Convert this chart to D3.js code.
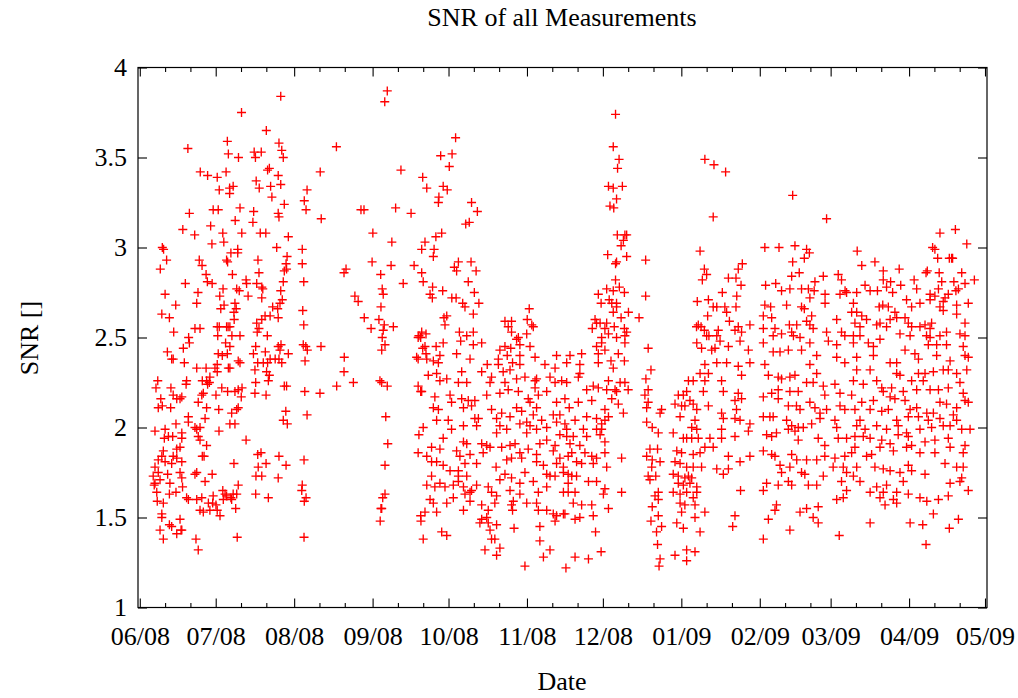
<!DOCTYPE html>
<html>
<head>
<meta charset="utf-8">
<script src="https://cdn.jsdelivr.net/npm/d3@7/dist/d3.min.js"></script>
<style>
  body { margin: 0; background: #fff; }
  svg { display: block; }
  text { font-family: "Liberation Serif", "Times New Roman", serif; fill: #000; }
</style>
</head>
<body>
<svg id="chart" width="1018" height="698"></svg>
<script>
// Measurement epoch: day offsets below count from 1 June 2008 (UTC).
const epoch = Date.UTC(2008, 5, 1);

// [day offset, SNR] pairs, grouped by observing period.
const obsJunJul = [
[40.2,3.75],[50,3.65],[34.6,3.59],[19,3.55],[35,3.52],[39,3.5],[45.2,3.53],[48,3.53],[45.7,3.5],[50.5,3.43],[51.2,3.44],[23.9,3.42],[26.8,3.4],[30.6,3.39],[34.1,3.42],[46,3.37],[47.2,3.33],[51.7,3.34],[52.2,3.28],[31.4,3.32],[35.5,3.33],[36.9,3.34],[35.5,3.3],[19.6,3.19],[29,3.21],[31,3.21],[39.6,3.22],[45,3.2],[37.7,3.15],[44.7,3.14],[17,3.1],[21.7,3.07],[28,3.12],[32.8,3.08],[33.2,3.03],[28.5,3.02],[40.3,3.08],[47.6,3.08],[49.8,3.08],[8.9,3],[9.4,2.99],[10.6,2.93],[8.1,2.88],[23.5,2.93],[24.6,2.9],[26.2,2.85],[26.7,2.81],[28.6,2.8],[18,2.8],[34.3,2.93],[34.7,2.92],[36,2.97],[38.7,2.99],[38.7,2.97],[46.7,2.93],[47.1,2.86],[42,2.82],[42.2,2.8],[46.2,2.8],[48.2,2.78],[48.6,2.77],[36.6,2.85],[10,2.74],[14.2,2.68],[8.7,2.63],[11.7,2.61],[13.4,2.53],[23,2.75],[22.5,2.69],[32.9,2.77],[31.6,2.73],[32,2.66],[33.3,2.68],[38.3,2.77],[39.3,2.76],[37.6,2.69],[38.1,2.66],[37.2,2.64],[37.3,2.6],[35.6,2.56],[34.3,2.56],[34.9,2.56],[31.4,2.56],[42.8,2.73],[48.2,2.72],[52.5,2.67],[49.5,2.62],[51.5,2.62],[48.2,2.6],[46.2,2.58],[47.1,2.55],[46.4,2.53],[21.8,2.55],[23.8,2.55],[30.6,2.56],[30.8,2.51],[36.4,2.51],[39.6,2.51],[50.4,2.51],[19.3,2.5],
[19.6,2.47],[17.2,2.44],[10.9,2.42],[12.6,2.38],[13.2,2.38],[17.6,2.36],[33.9,2.47],[35.6,2.45],[34.6,2.41],[32.6,2.4],[31,2.41],[38.9,2.37],[39.6,2.36],[35.6,2.33],[35,2.33],[30.6,2.35],[29.7,2.33],[30.6,2.31],[26.2,2.33],[22.5,2.33],[45.8,2.45],[44.9,2.41],[49.6,2.42],[45.5,2.32],[46.6,2.36],[48.8,2.36],[50.5,2.36],[51.5,2.38],[53.5,2.38],[50.1,2.31],[51.2,2.29],[50.8,2.26],[45.8,2.25],[45.5,2.19],[49.9,2.18],[7.1,2.26],[6.4,2.22],[8.3,2.16],[7.3,2.11],[8.9,2.12],[12.3,2.22],[12.2,2.11],[13.2,2.18],[14.6,2.16],[15.9,2.16],[16.6,2.17],[18.5,2.26],[18.3,2.24],[24.7,2.26],[26.4,2.26],[27.5,2.25],[26.8,2.24],[27.7,2.28],[25.1,2.19],[24.5,2.18],[23.1,2.14],[30.1,2.18],[32.4,2.22],[34.7,2.2],[37.6,2.2],[38.9,2.21],[40.4,2.22],[40.1,2.17],[26.4,2.11],[31.2,2.1],[36.3,2.08],[38.3,2.1],[38.9,2.11],[19.2,2.06],[19.2,2.03],[14.3,2.02],[25.8,2.05],[21.8,2],[23.8,2],[22.5,1.99],[23.1,1.95],[23.8,1.93],[26.4,1.9],[25.4,1.84],[35.6,2.02],[37.6,2.02],[31.3,1.98],[42,1.93],[6,1.98],[10,1.99],[9.7,1.94],[11.3,1.95],[13,1.95],[16.6,1.97],[16.6,1.94],[15.9,1.89],[14.6,1.88],[9.3,1.87],[8.7,1.84],[7.3,1.82],[10,1.81],[13.2,1.84],[14.6,1.83],[16.6,1.81],[12.6,1.8],[6,1.78],[5.3,1.73],[7.3,1.75],[11,1.74],[15.9,1.75],[16.6,1.72],[21.8,1.74],[22.5,1.75],[25.8,1.7],[28.6,1.74],[24.7,1.84],[6,1.69],[5.7,1.68],[8,1.71],[6.7,1.64],[11.9,1.69],[16.9,1.67],[14.3,1.64],[11.7,1.63],[9.3,1.58],[6.9,1.59],[8.7,1.52],[18.5,1.61],[19.2,1.6],[22.5,1.6],[24.5,1.61],[27.1,1.58],[25.1,1.53],[23.8,1.54],[27.7,1.54],[28.8,1.58],[30.1,1.57],[30.6,1.54],[31.7,1.51],[29,1.62],[32.8,1.65],[33.7,1.63],[33,1.6],[34.3,1.62],[36,1.61],[36.9,1.63],[38.3,1.63],[38.9,1.68],[37.9,1.55],[36.3,1.6],[45.8,1.63],[50.8,1.61],[46.6,1.85],[47.9,1.86],[49.9,1.8],[46.8,1.78],[45.9,1.73],[48.2,1.73],[37.2,1.8],[8.7,1.5],[8,1.43],[9.3,1.38],[11.7,1.46],[12.6,1.45],[14.6,1.41],[16.3,1.43],[16.6,1.43],[15.9,1.49],[22.2,1.38],[23.1,1.32],[38.5,1.39]
];

const obsAugSep = [
[55.7,3.84],[97.8,3.87],[96.8,3.81],[55,3.58],[56.1,3.54],[56.7,3.5],[77.7,3.56],[71.3,3.42],[103.2,3.43],[54.7,3.4],[55.7,3.35],[66.1,3.32],[65,3.26],[65.7,3.21],[57.1,3.24],[54.7,3.19],[55,3.17],[71.7,3.16],[87.4,3.21],[88.6,3.21],[101.1,3.22],[107.2,3.19],[58.7,3.06],[92.1,3.08],[99.6,3.03],[54.1,3],[58.2,2.95],[57.8,2.91],[57.1,2.87],[58,2.88],[56.7,2.81],[55.7,2.76],[56.3,2.71],[55.4,2.69],[54.5,2.66],[54.7,2.61],[64.2,2.99],[64.2,2.91],[64.8,2.81],[64.4,2.65],[64.8,2.57],[81.5,2.88],[80.7,2.86],[85,2.73],[86.3,2.7],[88.7,2.61],[91.4,2.55],[91.8,2.92],[95.2,2.85],[95.8,2.77],[96.2,2.74],[95.3,2.67],[94.5,2.6],[96.6,2.57],[96.2,2.54],[95.8,2.5],[100.2,2.56],[99.3,2.9],[104.1,2.8],[108.4,2.9],[110,2.5],
[54.7,2.45],[55.8,2.46],[55.4,2.43],[58.7,2.41],[55,2.38],[56.1,2.36],[64.6,2.46],[65.6,2.45],[66.2,2.43],[65.3,2.37],[71.6,2.45],[80.8,2.39],[80.7,2.31],[84.4,2.25],[77.8,2.23],[71.2,2.19],[65.2,2.2],[57.1,2.23],[58,2.23],[96.9,2.46],[95.6,2.43],[94.9,2.26],[95.6,2.25],[97.8,2.23],[97.2,2.06],[98,1.91],[96.9,1.79],[96.9,1.63],[96,1.61],[95.6,1.55],[95.3,1.55],[95,1.48],[57.7,2.09],[56.7,2.04],[58.3,2.02],[66.1,2.07],[55,1.84],[57.8,1.79],[54.7,1.72],[64.9,1.82],[64.2,1.68],[64,1.65],[65.7,1.61],[65,1.59],[64.9,1.39],[110.3,2.51],[111,2.5],[109.4,2.39],[110,2.38],[110,2.23],[111,2.2],[110.3,1.96],[110,1.86],[111,1.51]
];

const obsOct = [
[124.8,3.61],[118.9,3.51],[123.4,3.52],[122.3,3.45],[111.8,3.39],[113.4,3.33],[119.9,3.34],[121.5,3.32],[118.2,3.28],[118,3.25],[131.1,3.25],[133.4,3.2],[128.8,3.13],[130.2,3.14],[119.3,3.08],[117,3.06],[112.7,3.03],[111.4,2.99],[116.3,2.99],[116,2.95],[124.3,2.89],[125.9,2.92],[125.2,2.87],[130.9,2.92],[132.9,2.87],[129.8,2.81],[132.2,2.75],[134,2.69],[131.8,2.63],[111.4,2.86],[112,2.81],[115.7,2.78],[119.7,2.76],[114.7,2.74],[115.6,2.72],[123.3,2.72],[125,2.72],[127.6,2.69],[128.5,2.67],[113.1,2.52],[111.4,2.53],[120.2,2.61],[121.3,2.62],[120.6,2.57],[153.9,2.66],[144.3,2.59],[146.9,2.59],[145.6,2.56],[153.1,2.6],[154.9,2.57],[155.5,2.56],[149.6,2.5]
];

const obsOctNov = [
[126.3,2.53],[129.2,2.51],[131.8,2.53],[126.8,2.48],[119.9,2.47],[117.1,2.45],[112.7,2.45],[131.8,2.46],[135.1,2.47],[146.9,2.53],[148.9,2.49],[144.3,2.45],[146.6,2.44],[150.2,2.46],[152.9,2.52],[154.2,2.45],[142.3,2.43],[111.8,2.44],[118.6,2.4],[125.2,2.41],[113.1,2.41],[116,2.37],[118,2.36],[113.4,2.38],[130.5,2.38],[141.7,2.38],[145.2,2.4],[150.2,2.4],[156.2,2.39],[137.3,2.35],[141.7,2.35],[147.3,2.36],[150.2,2.35],[160.1,2.35],[164.7,2.4],[164.1,2.33],[168.7,2.36],[127.2,2.31],[114,2.29],[117.3,2.3],[121.3,2.27],[118.6,2.26],[125.9,2.25],[129.2,2.25],[135.1,2.31],[139,2.28],[138.4,2.25],[143.6,2.31],[146.3,2.32],[148.9,2.27],[152.2,2.28],[156.8,2.27],[156.2,2.22],[162.1,2.28],[164.1,2.25],[166.7,2.26],[168.7,2.25],
[111.4,2.2],[116.6,2.17],[122.6,2.18],[127.2,2.16],[129.8,2.15],[132.4,2.15],[137.1,2.18],[142.3,2.19],[145.6,2.21],[149.6,2.2],[153.5,2.16],[157.5,2.18],[160.8,2.2],[168,2.16],[164.7,2.14],[116,2.11],[118,2.1],[123.2,2.14],[127.9,2.11],[131.1,2.12],[139,2.1],[141,2.05],[143,2.08],[146.3,2.06],[148.9,2.11],[150.9,2.09],[154.2,2.14],[156.8,2.11],[155.5,2.07],[163.4,2.07],[166,2.07],[169.7,2.11],[112,2],[117.3,2.04],[121.9,2.04],[123.2,1.99],[119.9,1.94],[127.9,2.01],[132.4,2.05],[133.8,2.05],[133.1,2.01],[142.3,2.01],[145,1.99],[141,1.97],[150.2,2.02],[152.9,2.03],[154.2,2.01],[152.9,1.97],[158.8,2.04],[156.8,1.99],[160.8,2],[164.7,2.03],[168,2.02],[166,1.96],[168.7,1.95],
[115.3,1.89],[118.6,1.88],[113.4,1.84],[125.2,1.87],[127.9,1.92],[129.2,1.91],[126.5,1.84],[130.5,1.85],[135.1,1.91],[137.1,1.9],[138.4,1.89],[135.7,1.86],[143,1.89],[146.3,1.9],[148.3,1.91],[146.9,1.83],[150.2,1.86],[150.9,1.83],[153.5,1.88],[156.8,1.85],[158.1,1.91],[160.8,1.93],[164.1,1.9],[163.4,1.87],[166,1.83],[169.3,1.84],[115.3,1.81],[117.3,1.81],[119.9,1.79],[122.6,1.76],[125.9,1.76],[128.5,1.8],[133.1,1.8],[140.8,1.78],[145,1.82],[152.2,1.75],[156.8,1.81],[159.5,1.79],[160.8,1.74],[164.7,1.8],[167.4,1.78],[125.9,1.73],[129.2,1.73],[125.9,1.7],[115.3,1.73],[113.4,1.68],[116.6,1.67],[118.6,1.69],[120.6,1.67],[123.9,1.68],[127.9,1.67],[131.1,1.65],[133.1,1.68],[137.7,1.67],[142.3,1.71],[144.3,1.74],[146.9,1.72],[146.3,1.65],[150.2,1.69],[155.5,1.7],[157.5,1.64],[160.8,1.67],[162.1,1.73],[164.1,1.73],[167.4,1.75],[169.3,1.69],[167.4,1.64],
[114.7,1.6],[116,1.58],[121.3,1.58],[123.9,1.61],[128.5,1.63],[130.5,1.64],[139,1.64],[141,1.62],[147.6,1.59],[150.2,1.63],[152.9,1.58],[156.8,1.58],[157.5,1.54],[160.8,1.54],[163.4,1.52],[167.4,1.52],[112.7,1.53],[117.3,1.53],[127.9,1.54],[135.1,1.57],[140.3,1.58],[147.3,1.54],[146.9,1.57],[135.1,1.49],[137.1,1.5],[137.7,1.47],[134.4,1.47],[141,1.46],[138.4,1.43],[147.9,1.44],[158.1,1.45],[164.1,1.48],[164.7,1.51],[119.3,1.42],[121.3,1.4],[112,1.38],[139,1.38],[140.3,1.38],[136.4,1.32],[142.3,1.33],[141,1.29],[158.1,1.37],[162.1,1.32],[159.5,1.28],[152.2,1.23],[168.4,1.22],[111.1,1.48],[137.7,1.54],[130.5,1.59],[156.2,2.26],[144.3,2.25]
];

const obsDec = [
[188,3.74],[187.1,3.56],[189.4,3.49],[188.8,3.44],[185.2,3.34],[187.1,3.33],[190.7,3.34],[188.4,3.27],[185.8,3.23],[187.3,3.22],[188.7,3.07],[191.7,3.07],[192.4,3.07],[191.1,3.04],[190.2,3.01],[184.9,2.96],[188.4,2.92],[188,2.91],[192.4,2.95],[199.9,2.93],[188,2.82],[184.5,2.77],[187.1,2.76],[189.5,2.78],[191.5,2.75],[181.2,2.74],[182.3,2.69],[185.5,2.71],[186.5,2.69],[188.4,2.69],[188.4,2.67],[199.9,2.73],[187.1,2.64],[190.2,2.61],[193.1,2.64],[197.3,2.61],[179.9,2.6],[178.8,2.55],[180.5,2.58],[181.9,2.58],[184.5,2.58],[183.8,2.55],[187.5,2.56],[191.5,2.55],[192.4,2.53],[191.7,2.51],[188.4,2.5],[185.2,2.52],[182.5,2.5],
[191.7,2.47],[183.8,2.43],[182.5,2.47],[180.5,2.45],[174.6,2.41],[170,2.4],[181.2,2.41],[189.1,2.41],[191.5,2.37],[186.2,2.37],[187.1,2.33],[181.2,2.36],[173.9,2.35],[173.9,2.3],[173.3,2.28],[185.2,2.26],[189.8,2.25],[191.7,2.25],[179.2,2.23],[181.2,2.22],[176.6,2.21],[184.5,2.21],[187.8,2.21],[188.4,2.2],[193,2.21],[173.3,2.14],[178.6,2.15],[186.5,2.16],[189.1,2.13],[183.8,2.1],[191.1,2.08],[176.6,2.06],[180.5,2.05],[182.5,2.02],[183.8,2.04],[185.2,2.06],[172,2.04],[168.7,1.99],[175.3,1.99],[176.6,1.95],[180.5,1.99],[182.5,1.99],[181.9,1.96],[171.3,1.95],[173.9,1.9],[170,1.91],[183.8,1.92],[175.9,1.86],[178.6,1.84],[183.8,1.86],[190.4,1.83],[170.7,1.86],[172.6,1.81],[174.6,1.8],[179.2,1.8],[180.5,1.83],[184.5,1.78],[169.3,1.74],[170.7,1.73],[172.6,1.73],[177.3,1.7],[180.5,1.7],[172,1.64],[183.8,1.66],[183.2,1.63],[190.4,1.64],[169.3,1.64],[171.3,1.58],[174.6,1.57],[178.6,1.57],[185.2,1.55],[168,1.52],[172,1.49],[173.9,1.5],[179.2,1.51],[180.1,1.42],[172,1.28],[177.3,1.27],[182.3,1.31],
[200.9,2.44],[202,2.32],[200,2.27],[200.9,2.21],[199.6,2.18],[200.9,2.14],[200.3,2.11],[206.2,2.1],[205.6,2.08],[200.3,2.03],[202.5,2],[204.9,1.97],[201.6,1.88],[204.6,1.88],[200.3,1.84],[202.5,1.82],[205.6,1.81],[202.3,1.78],[200.9,1.73],[203.9,1.73],[201.6,1.71],[204.9,1.64],[203.6,1.62],[204.9,1.6],[202.5,1.56],[204.9,1.51],[202,1.48],[206.2,1.45],[204.2,1.42],[204.6,1.35],[205.6,1.27],[205.2,1.23]
];

const obsJan = [
[223.3,3.49],[226.9,3.46],[226.6,3.17],[221.4,2.98],[223.1,2.88],[224,2.85],[222.3,2.82],[220.3,2.7],[224.7,2.71],[226.6,2.67],[224.4,2.62],[220.7,2.57],[221.8,2.56],[223.1,2.54],[224,2.51],[224.9,2.51],[220,2.56],
[220.1,2.47],[222,2.44],[226,2.43],[223.3,2.35],[221.4,2.3],[224.7,2.3],[218.7,2.26],[216.8,2.26],[223.3,2.26],[222.7,2.2],[216.1,2.2],[212.8,2.18],[214.8,2.18],[217.4,2.15],[211.5,2.13],[214.1,2.12],[215.4,2.12],[218.7,2.13],[220.1,2.1],[224.7,2.12],[213.5,2.06],[219.4,2.04],[218.1,2],[220.1,1.99],[210.8,1.97],[214.8,1.94],[216.1,1.94],[218.1,1.94],[220.7,1.94],[225.3,1.94],[223.3,1.89],[212.2,1.87],[214.1,1.86],[218.7,1.85],[221.4,1.86],[211.5,1.81],[213.5,1.8],[216.1,1.78],[218.7,1.78],[222,1.78],[210.8,1.74],[212.8,1.73],[215.4,1.72],[216.8,1.73],[218.1,1.72],[212.8,1.69],[214.8,1.68],[217.4,1.69],[220.1,1.67],[210.8,1.64],[213.5,1.63],[216.1,1.64],[220.1,1.64],[218.7,1.61],[213.5,1.58],[215.4,1.57],[219.4,1.57],[223.3,1.53],[214.1,1.53],[219.4,1.5],[212.2,1.47],[214.8,1.44],[221.4,1.42],[211.5,1.29],[216.1,1.32],[219.4,1.31],[216.1,1.26]
];

const obsFebMar = [
[231.5,3.42],[258,3.29],[271.4,3.16],[247,3],[252.6,3],[258.9,3.01],[263.5,2.99],[264.6,2.97],[262.6,2.94],[258,2.92],[238.1,2.91],[236.5,2.88],[232.6,2.83],[235.6,2.83],[237.6,2.79],[230.2,2.75],[235.9,2.73],[228,2.67],[231.2,2.67],[231.9,2.64],[235.6,2.67],[247.3,2.79],[251.3,2.8],[253.6,2.76],[256.9,2.77],[257.6,2.84],[260.6,2.86],[261.5,2.77],[264.2,2.77],[266.8,2.81],[270.1,2.84],[266.5,2.76],[264.8,2.72],[270.8,2.74],[270.8,2.69],[276,2.85],[277.3,2.82],[278.7,2.76],[276.7,2.74],[279.3,2.75],[247,2.68],[249.3,2.67],[255.6,2.68],[261.5,2.67],[262.6,2.66],[265.5,2.62],[246.4,2.62],[249.7,2.61],[233,2.59],[236.5,2.56],[241.1,2.57],[235.2,2.54],[237.8,2.53],[228.6,2.54],[228,2.51],[256.7,2.57],[259.6,2.57],[257.6,2.53],[258.3,2.51],[263.5,2.59],[264.8,2.57],[266.1,2.55],[246.4,2.55],[251,2.55],[253.6,2.52],[271.4,2.53],[275.4,2.6],[277.3,2.53],[282,2.51],[283.3,2.75],
[229.3,2.48],[227.3,2.44],[232.6,2.45],[237.2,2.48],[240.5,2.43],[228,2.36],[231.9,2.36],[236.5,2.34],[241.1,2.36],[237.8,2.29],[229.9,2.26],[230.6,2.2],[235.2,2.15],[236.5,2.19],[237.8,2.16],[235.8,2.1],[235.2,2.05],[229.9,2.08],[230.6,2.05],[237.2,2.04],[241.1,2.02],[240.5,1.98],[229.9,1.99],[235.2,1.95],[229.9,1.94],[226.6,1.89],[232.6,1.84],[237.2,1.81],[241.1,1.84],[228,1.77],[230.6,1.74],[232.6,1.77],[237.4,1.65],[235.2,1.51],[234.3,1.45],[250.3,2.51],[260.9,2.5],[246.4,2.47],[250.3,2.42],[253,2.42],[256.3,2.43],[261.5,2.43],[264.8,2.47],[267.5,2.4],[272.1,2.48],[275.4,2.46],[278.6,2.51],[247,2.35],[248.4,2.29],[252.3,2.28],[253.6,2.27],[256.9,2.28],[258.9,2.29],[264.8,2.35],[267.5,2.3],[275.4,2.39],[278.6,2.36],[246.4,2.17],[249.7,2.19],[252.3,2.21],[252.3,2.16],[256.9,2.2],[260.2,2.2],[263.5,2.25],[266.1,2.25],[270.1,2.23],[270.7,2.18],[274.7,2.24],[276.7,2.19],[256.3,2.12],[259.5,2.12],[260.9,2.1],[264.8,2.14],[266.8,2.11],[268.8,2.08],[271.4,2.1],[276.7,2.12],[278.6,2.1],[246.4,2.06],[249,2.06],[250.3,2.06],[255.6,2.04],[257.6,2.01],[260.2,2],[262.2,2],[265.5,2.02],[268.8,2.05],[274.7,2.04],[275.4,2],[247.7,1.96],[249.7,1.95],[251.6,1.97],[256.3,1.99],[258.9,1.98],[260.2,1.93],[268.1,1.94],[270.7,1.9],[276,1.94],[279.3,1.94],[246.4,1.87],[249.7,1.85],[251,1.84],[257.6,1.85],[259.6,1.82],[263.5,1.82],[267.5,1.82],[270.7,1.84],[274.7,1.83],[278.6,1.84],[253,1.79],[253.6,1.75],[256.9,1.78],[261.5,1.75],[262.8,1.74],[270.1,1.73],[274,1.78],[278,1.78],[279.3,1.75],[247.7,1.69],[246.4,1.65],[252.3,1.68],[256.3,1.7],[257.6,1.68],[264.2,1.68],[267.5,1.68],[277.3,1.7],[279.3,1.65],[251.6,1.57],[251,1.54],[260.9,1.53],[263.5,1.55],[268.1,1.56],[275.4,1.6],[278,1.61],[248.4,1.49],[266.1,1.5],[268.1,1.47],[256.9,1.43],[246.4,1.38],[276.4,1.4]
];

const obsMarApr = [
[316.2,3.08],[322.3,3.1],[326.8,3.02],[313.3,3],[314.2,2.99],[315.3,2.94],[319.9,2.94],[320.8,2.94],[321.2,2.94],[283.5,2.98],[285.3,2.9],[290.5,2.92],[293.8,2.87],[300.1,2.88],[311.2,2.87],[315.9,2.86],[324.8,2.86],[329.8,2.82],[306,2.82],[307,2.77],[310.7,2.86],[286.6,2.79],[288.6,2.76],[291.5,2.76],[293.8,2.82],[295.1,2.78],[296.7,2.81],[297.5,2.75],[300.7,2.79],[312.3,2.74],[314.2,2.73],[315.6,2.77],[316.9,2.81],[321.7,2.81],[323.5,2.77],[322.5,2.76],[326.1,2.8],[318.2,2.72],[319.5,2.74],[317.5,2.7],[312.3,2.71],[282,2.69],[281.3,2.64],[283.3,2.64],[285.3,2.62],[287.2,2.6],[282.6,2.58],[284.6,2.56],[292.2,2.67],[293.6,2.68],[295.8,2.67],[298.4,2.64],[303,2.71],[305,2.67],[308.3,2.69],[296.5,2.6],[299.1,2.61],[302.4,2.61],[303.7,2.58],[305,2.56],[308.3,2.56],[310.3,2.57],[312.9,2.58],[312.3,2.55],[316.2,2.67],[317.5,2.65],[322.8,2.68],[327.4,2.69],[322.8,2.63],[326.1,2.58],[292.5,2.58],[295.1,2.56],[291.2,2.57],[300.4,2.52],[304.4,2.51],[310.9,2.51],[318.8,2.53],[326.1,2.51],
[284.6,2.51],[287.9,2.47],[289.9,2.45],[282,2.47],[292.5,2.49],[283.3,2.39],[289.9,2.4],[312.3,2.5],[316.2,2.51],[324.1,2.52],[311.6,2.46],[314.9,2.46],[318.8,2.46],[325.4,2.45],[302.4,2.43],[306.3,2.41],[307.7,2.38],[314.9,2.4],[320.2,2.37],[326.1,2.4],[327.4,2.39],[296.5,2.36],[299.1,2.36],[299.1,2.3],[300.4,2.29],[305,2.26],[307.7,2.3],[310.3,2.3],[309.6,2.26],[313.6,2.31],[317.5,2.32],[319.5,2.32],[322.8,2.3],[326.8,2.32],[283.3,2.32],[288.6,2.32],[282,2.26],[285.9,2.24],[291.2,2.26],[293.2,2.22],[293.8,2.2],[297.1,2.22],[301.7,2.2],[307,2.21],[312.3,2.21],[315.6,2.21],[319.5,2.22],[324.1,2.25],[325.4,2.19],[281.3,2.18],[285.3,2.14],[289.9,2.15],[296.5,2.17],[298.4,2.16],[302.4,2.15],[304.4,2.1],[307,2.11],[311,2.08],[313.6,2.08],[316.2,2.14],[318.8,2.13],[322.8,2.11],[326.1,2.15],[327.4,2.14],[282.6,2.1],[284.6,2.04],[288.6,2.1],[293.2,2.09],[295.8,2.1],[299.1,2.04],[303.7,2.06],[307.7,2.06],[311.6,2.04],[316.2,2.05],[321.5,2.07],[322.8,2.04],[283.3,2.01],[286.6,1.99],[291.2,2.01],[295.1,1.99],[299.7,2.01],[303,1.97],[308.3,1.99],[312.9,2],[317.5,2.01],[320.2,2.01],[324.8,1.99],[328.1,1.99],[282.6,1.95],[285.9,1.95],[288.6,1.94],[293.2,1.93],[296.5,1.91],[299.7,1.96],[303.7,1.95],[305,1.9],[310.3,1.92],[314.2,1.93],[319.5,1.94],[320.2,1.89],[326.1,1.9],[282.6,1.89],[281.3,1.86],[287.2,1.84],[289.2,1.85],[292.5,1.89],[297.8,1.87],[303,1.89],[308.3,1.86],[314.2,1.86],[325.4,1.86],[283.3,1.78],[290.5,1.78],[293.8,1.77],[296.5,1.76],[300.4,1.75],[303.7,1.79],[305,1.76],[310.3,1.74],[318.2,1.8],[322.8,1.78],[325.4,1.78],[282,1.73],[284.6,1.7],[288.6,1.64],[291.2,1.67],[295.1,1.68],[299.1,1.64],[301.7,1.7],[293.8,1.64],[292.5,1.61],[294.5,1.57],[297.8,1.6],[299.1,1.58],[303.7,1.63],[308.3,1.61],[311,1.59],[315.6,1.6],[320.2,1.69],[319.5,1.62],[324.8,1.72],[324.1,1.7],[327.4,1.65],[288.6,1.47],[304.4,1.47],[309.4,1.46],[313.6,1.52],[319.9,1.44],[323.5,1.49],[310.7,1.35]
];

const yTickValues = [1, 1.5, 2, 2.5, 3, 3.5, 4];
const monthTickDates = ["2008-06-01","2008-07-01","2008-08-01","2008-09-01","2008-10-01","2008-11-01",
  "2008-12-01","2009-01-01","2009-02-01","2009-03-01","2009-04-01","2009-05-01"];
const titleText = "SNR of all Measurements";
const xLabelText = "Date";
const yLabelText = "SNR []";

const frame = { left: 138, right: 987, top: 67.5, bottom: 607.5 };
const fontSize = 26;
const plusHalf = 4.5;

const svg = d3.select("#chart");

const x = d3.scaleUtc()
  .domain([new Date(Date.UTC(2008, 4, 31, 7)), new Date(Date.UTC(2009, 4, 1, 19))])
  .range([frame.left, frame.right]);
const y = d3.scaleLinear().domain([1, 4]).range([frame.bottom, frame.top]);

const majorDates = monthTickDates.map(s => new Date(s + "T00:00:00Z"));
// minor ticks fall on the 11th and 21st of every month
const minorDates = [];
majorDates.forEach(d => {
  [11, 21].forEach(day => {
    const m = new Date(Date.UTC(d.getUTCFullYear(), d.getUTCMonth(), day));
    if (m <= x.domain()[1]) minorDates.push(m);
  });
});

const fmtMonth = d3.utcFormat("%m/%y");

function styleAxis(g) {
  g.select(".domain").remove();
  g.selectAll(".tick line").attr("stroke", "#000").attr("stroke-width", 1.1);
  g.selectAll("text").attr("font-size", fontSize).attr("font-family", '"Liberation Serif", serif').attr("fill", "#000");
}

// bottom axis with labels
svg.append("g")
  .attr("transform", `translate(0,${frame.bottom})`)
  .call(d3.axisBottom(x).tickValues(majorDates).tickFormat(fmtMonth).tickSizeInner(-9).tickSizeOuter(0).tickPadding(19))
  .call(styleAxis);
svg.append("g")
  .attr("transform", `translate(0,${frame.bottom})`)
  .call(d3.axisBottom(x).tickValues(minorDates).tickFormat("").tickSizeInner(-4.5).tickSizeOuter(0))
  .call(styleAxis);
// mirrored top axis
svg.append("g")
  .attr("transform", `translate(0,${frame.top})`)
  .call(d3.axisTop(x).tickValues(majorDates).tickFormat("").tickSizeInner(-9).tickSizeOuter(0))
  .call(styleAxis);
svg.append("g")
  .attr("transform", `translate(0,${frame.top})`)
  .call(d3.axisTop(x).tickValues(minorDates).tickFormat("").tickSizeInner(-4.5).tickSizeOuter(0))
  .call(styleAxis);
// left axis with labels, mirrored right axis
svg.append("g")
  .attr("transform", `translate(${frame.left},0)`)
  .call(d3.axisLeft(y).tickValues(yTickValues).tickFormat(d => String(d)).tickSizeInner(-9).tickSizeOuter(0).tickPadding(11))
  .call(styleAxis);
svg.append("g")
  .attr("transform", `translate(${frame.right},0)`)
  .call(d3.axisRight(y).tickValues(yTickValues).tickFormat("").tickSizeInner(-9).tickSizeOuter(0))
  .call(styleAxis);

// plot frame
svg.append("rect")
  .attr("x", frame.left).attr("y", frame.top)
  .attr("width", frame.right - frame.left).attr("height", frame.bottom - frame.top)
  .attr("fill", "none").attr("stroke", "#000").attr("stroke-width", 1.2);

// measurement points drawn as "+" markers
const allObs = [].concat(obsJunJul, obsAugSep, obsOct, obsOctNov, obsDec, obsJan, obsFebMar, obsMarApr);
const plusPath = `M${-plusHalf},0H${plusHalf}M0,${-plusHalf}V${plusHalf}`;
svg.append("g")
  .selectAll("path")
  .data(allObs)
  .join("path")
  .attr("d", plusPath)
  .attr("transform", d => `translate(${x(new Date(epoch + d[0] * 86400000))},${y(d[1])})`)
  .attr("fill", "none")
  .attr("stroke", "#ff0000")
  .attr("stroke-width", 1.35);

// titles
svg.append("text")
  .attr("x", 562).attr("y", 26)
  .attr("text-anchor", "middle").attr("font-size", fontSize)
  .text(titleText);
svg.append("text")
  .attr("x", 562).attr("y", 690)
  .attr("text-anchor", "middle").attr("font-size", fontSize)
  .text(xLabelText);
svg.append("text")
  .attr("transform", "translate(38,338) rotate(-90)")
  .attr("text-anchor", "middle").attr("font-size", fontSize)
  .text(yLabelText);
</script>
</body>
</html>
